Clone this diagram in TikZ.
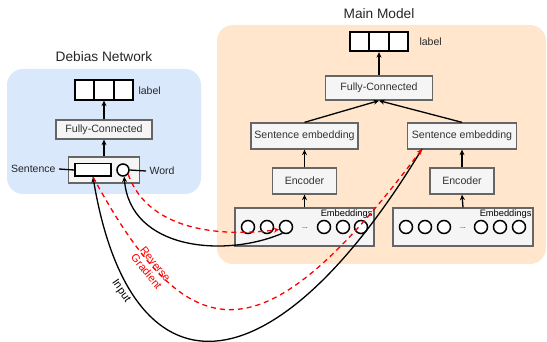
\documentclass[tikz,border=0pt]{standalone}
\usepackage{fontspec}
\setmainfont{Liberation Sans}
\usetikzlibrary{arrows.meta}

\definecolor{debiasbg}{HTML}{DAE8FC}
\definecolor{mainbg}{HTML}{FFE6CC}
\definecolor{boxfill}{HTML}{F5F5F5}
\definecolor{boxline}{HTML}{666666}
\definecolor{boxtext}{HTML}{333333}
\definecolor{revred}{HTML}{FF0000}

\begin{document}
\begin{tikzpicture}[x=1pt,y=-1pt,
    panel/.style={rounded corners=16pt},
    title/.style={font=\fontsize{13.7}{16}\selectfont,text=black!85},
    layer/.style={draw=boxline,fill=boxfill,line width=1.3pt,text=boxtext,
        font=\fontsize{10.6}{12}\selectfont,inner sep=0pt},
    cell/.style={draw,fill=white,line width=1.8pt,minimum width=19.5pt,
        minimum height=19.5pt,inner sep=0pt},
    tok/.style={circle,draw,fill=white,line width=1.5pt,minimum size=13pt,inner sep=0pt},
    small/.style={font=\fontsize{10.5}{12}\selectfont,text=black!85},
    arr/.style={-{Stealth[length=5.5pt,width=5pt]},line width=1.3pt},
    grad/.style={arr,revred,dash pattern=on 5pt off 4pt},
    curvelab/.style={font=\fontsize{11}{11.5}\selectfont,align=center,inner sep=0pt}
]
\useasboundingbox (0,0) rectangle (547,342);

% Backgrounds of the two networks
\fill[debiasbg,panel] (7,69) rectangle (201,194);
\fill[mainbg,panel] (217,25) rectangle (546,264);
\node[title] (dtitle) at (104,57) {Debias Network};
\node[title] (mtitle) at (379,14) {Main Model};

% Debias network
\foreach \i in {0,1,2}
    \node[cell] (dl\i) at (84.5+19.5*\i,90) {};
\node[small,anchor=west] (dlabtxt) at (135,91) {label};
\node[layer,minimum width=96pt,minimum height=19pt] (dfc) at (104,129.5) {Fully-Connected};
\node[draw=boxline,fill=boxfill,line width=1.3pt,minimum width=71pt,minimum height=26pt] (dinp) at (104,170) {};
\node[draw,fill=white,line width=1.5pt,minimum width=36pt,minimum height=12.5pt] (srect) at (93,170) {};
\node[tok,minimum size=12pt] (wcirc) at (123,170) {};
\node[small,anchor=east] (stxt) at (59,169) {Sentence};
\node[small,anchor=west] (wtxt) at (146,171) {Word};
\draw[line width=1.3pt] (stxt.east) -- (srect.west);
\draw[line width=1.3pt] (wcirc.east) -- (wtxt.west);
\draw[arr] (dinp.north) -- (dfc.south);
\draw[arr] (dfc.north) -- (dl1.south);

% Main model
\foreach \i in {0,1,2}
    \node[cell] (ml\i) at (359.5+19.5*\i,41.5) {};
\node[small,anchor=west] (mlabtxt) at (416,42) {label};
\node[layer,minimum width=107pt,minimum height=24pt] (mfc) at (379,88) {Fully-Connected};
\draw[arr] (mfc.north) -- (ml1.south);

% Two encoder branches
\node[layer,minimum width=107pt,minimum height=26pt] (lse) at (304.5,136) {Sentence embedding};
\node[layer,minimum width=109pt,minimum height=26pt] (rse) at (462,136) {Sentence embedding};
\node[layer,minimum width=64pt,minimum height=26pt] (lenc) at (304.5,181) {Encoder};
\node[layer,minimum width=64pt,minimum height=26pt] (renc) at (462,181) {Encoder};
\node[layer,minimum width=139pt,minimum height=38pt] (lemb) at (304.5,227) {};
\node[layer,minimum width=140pt,minimum height=38pt] (remb) at (463,227) {};
\node[anchor=north east,inner sep=2pt,font=\fontsize{9.3}{11}\selectfont] (lembtxt) at (lemb.north east) {Embeddings};
\node[anchor=north east,inner sep=2pt,font=\fontsize{9.3}{11}\selectfont] (rembtxt) at (remb.north east) {Embeddings};
\foreach \x [count=\i] in {248,267,286,324,343,361}
    \node[tok] (le\i) at (\x,227) {};
\foreach \x [count=\i] in {406,425,444,481,500,519}
    \node[tok] (re\i) at (\x,227) {};
\node[font=\scriptsize] (ldots) at (305,228) {...};
\node[font=\scriptsize] (rdots) at (463,228) {...};

\draw[arr] (lemb.north) -- (lenc.south);
\draw[arr] (remb.north) -- (renc.south);
\draw[arr] (lenc.north) -- (lse.south);
\draw[arr] (renc.north) -- (rse.south);
\draw[arr] (lse.north) -- (mfc.south);
\draw[arr] (rse.north) -- (mfc.south);

% Links between the two networks
\coordinate (rsein) at (422,149);
\draw[arr] (rsein) .. controls (270,400) and (130,400) .. (srect.south);
\draw[grad] (srect.south) .. controls (190,355) and (263,361) .. (rsein);
\draw[arr] (le3.-120) .. controls (225,258) and (130,250) .. (wcirc.-80);
\draw[grad] (wcirc.-40) .. controls (150,235) and (230,236) .. (le3.-160);
\node[curvelab,rotate=-51,text=revred] (rglab) at (151,268) {Reverse\\Gradient};
\node[curvelab,rotate=-55] (inlab) at (121,291) {Input};
\end{tikzpicture}
\end{document}
